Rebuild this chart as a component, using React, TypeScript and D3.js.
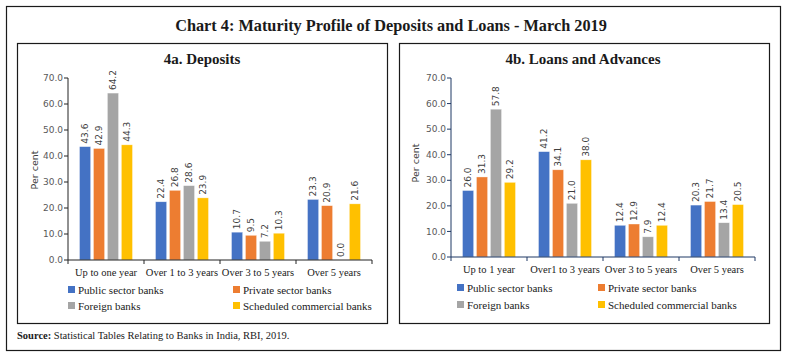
import React from "react";
import * as d3 from "d3";

const seriesNames = ["Public sector banks", "Private sector banks", "Foreign banks", "Scheduled commercial banks"];
const colors = ["#4472C4", "#ED7D31", "#A5A5A5", "#FFC000"];

const depCategories = ["Up to one year", "Over 1 to 3 years", "Over 3 to 5 years", "Over 5 years"];
const depPublic = [43.6, 22.4, 10.7, 23.3];
const depPrivate = [42.9, 26.8, 9.5, 20.9];
const depForeign = [64.2, 28.6, 7.2, 0.0];
const depSCB = [44.3, 23.9, 10.3, 21.6];

const loanCategories = ["Up to 1 year", "Over1 to 3 years", "Over 3 to 5 years", "Over 5 years"];
const loanPublic = [26.0, 41.2, 12.4, 20.3];
const loanPrivate = [31.3, 34.1, 12.9, 21.7];
const loanForeign = [57.8, 21.0, 7.9, 13.4];
const loanSCB = [29.2, 38.0, 12.4, 20.5];

const yTicks = [0, 10, 20, 30, 40, 50, 60, 70];

const SERIF = "'Liberation Serif', 'DejaVu Serif', serif";
const SANS = "'DejaVu Sans', Verdana, sans-serif";

type PanelProps = {
  title: string;
  categories: string[];
  series: number[][];
  box: [number, number, number, number];
  xRange: [number, number];
  yRange: [number, number];
  axisColor: string;
  titleX: number;
  yLabelX: number;
  yLabelY: number;
  legendX: [number, number];
  legendY: [number, number];
};

function Panel(p: PanelProps) {
  const x = d3.scaleBand<string>().domain(p.categories).range(p.xRange).padding(0);
  const inner = d3
    .scaleBand<string>()
    .domain(seriesNames)
    .range([-26.5, 26.5])
    .paddingInner(0.2)
    .paddingOuter(0);
  const y = d3.scaleLinear().domain([0, 70]).range(p.yRange);
  const [bx, by, bw, bh] = p.box;
  const boundaries = [p.xRange[0], ...p.categories.map((c) => (x(c) as number) + x.bandwidth())];
  return (
    <g>
      <rect x={bx} y={by} width={bw} height={bh} fill="white" stroke="#1a1a1a" strokeWidth={1.2} />
      <text x={p.titleX} y={by + 20} textAnchor="middle" fontFamily={SERIF} fontWeight="bold" fontSize={15} fill="#1a1a1a">
        {p.title}
      </text>
      {p.categories.map((c, ci) => (
        <g key={c} transform={`translate(${(x(c) as number) + x.bandwidth() / 2},0)`}>
          {p.series.map((s, si) => {
            const v = s[ci];
            const bxp = inner(seriesNames[si]) as number;
            const top = y(v);
            return (
              <g key={si}>
                <rect
                  x={bxp}
                  y={top}
                  width={inner.bandwidth()}
                  height={y(0) - top}
                  fill={colors[si]}
                  stroke="#ffffff"
                  strokeOpacity={0.6}
                  strokeWidth={0.6}
                />
                <text
                  transform={`translate(${bxp + inner.bandwidth() / 2 + 3.3},${top - 3}) rotate(-90)`}
                  fontFamily={SANS}
                  fontSize={9}
                  fill="#404040"
                >
                  {v.toFixed(1)}
                </text>
              </g>
            );
          })}
        </g>
      ))}
      <line x1={p.xRange[0]} x2={p.xRange[0]} y1={p.yRange[1]} y2={p.yRange[0]} stroke={p.axisColor} strokeWidth={1} />
      {yTicks.map((t) => (
        <g key={t}>
          <line x1={p.xRange[0] - 4} x2={p.xRange[0]} y1={y(t)} y2={y(t)} stroke={p.axisColor} strokeWidth={1} />
          <text x={p.xRange[0] - 5} y={y(t) + 3.2} textAnchor="end" fontFamily={SANS} fontSize={9} fill="#595959">
            {t.toFixed(1)}
          </text>
        </g>
      ))}
      <text
        transform={`translate(${p.yLabelX},${p.yLabelY}) rotate(-90)`}
        textAnchor="middle"
        fontFamily={SANS}
        fontSize={9.5}
        fill="#404040"
      >
        Per cent
      </text>
      <line x1={p.xRange[0]} x2={p.xRange[1]} y1={y(0)} y2={y(0)} stroke={p.axisColor} strokeWidth={1} />
      {boundaries.map((b, i) => (
        <line key={i} x1={b} x2={b} y1={y(0)} y2={y(0) + 4} stroke={p.axisColor} strokeWidth={1} />
      ))}
      {p.categories.map((c) => (
        <text
          key={c}
          x={(x(c) as number) + x.bandwidth() / 2}
          y={y(0) + 16}
          textAnchor="middle"
          fontFamily={SERIF}
          fontSize={10.5}
          fill="#1a1a1a"
        >
          {c}
        </text>
      ))}
      {seriesNames.map((n, i) => {
        const lx = p.legendX[i % 2];
        const ly = p.legendY[Math.floor(i / 2)];
        return (
          <g key={n}>
            <rect x={lx} y={ly - 4} width={7} height={7} fill={colors[i]} />
            <text x={lx + 10} y={ly + 3.5} fontFamily={SERIF} fontSize={11} fill="#1a1a1a">
              {n}
            </text>
          </g>
        );
      })}
    </g>
  );
}

export default function App() {
  return (
    <svg
      width={788}
      height={357}
      style={{ position: "absolute", left: 0, top: 0, background: "white" }}
    >
      <rect x={0} y={0} width={788} height={357} fill="white" />
      <rect x={6.5} y={6.5} width={774} height={344} fill="white" stroke="#1a1a1a" strokeWidth={1.2} />
      <text x={391} y={31} textAnchor="middle" fontFamily={SERIF} fontWeight="bold" fontSize={16.3} fill="#1a1a1a">
        Chart 4: Maturity Profile of Deposits and Loans - March 2019
      </text>
      <Panel
        title="4a. Deposits"
        categories={depCategories}
        series={[depPublic, depPrivate, depForeign, depSCB]}
        box={[17.5, 43.5, 370, 280]}
        xRange={[68, 372]}
        yRange={[260, 78]}
        axisColor="#222222"
        titleX={202}
        yLabelX={38}
        yLabelY={170}
        legendX={[68, 233]}
        legendY={[290, 306]}
      />
      <Panel
        title="4b. Loans and Advances"
        categories={loanCategories}
        series={[loanPublic, loanPrivate, loanForeign, loanSCB]}
        box={[399.5, 43.5, 370, 280]}
        xRange={[451, 755]}
        yRange={[257, 78]}
        axisColor="#1F3864"
        titleX={583}
        yLabelX={419}
        yLabelY={163}
        legendX={[457, 598]}
        legendY={[288, 305]}
      />
      <text x={17} y={339} fontFamily={SERIF} fontSize={10.5} fill="#1a1a1a">
        <tspan fontWeight="bold">Source:</tspan> Statistical Tables Relating to Banks in India, RBI, 2019.
      </text>
    </svg>
  );
}
